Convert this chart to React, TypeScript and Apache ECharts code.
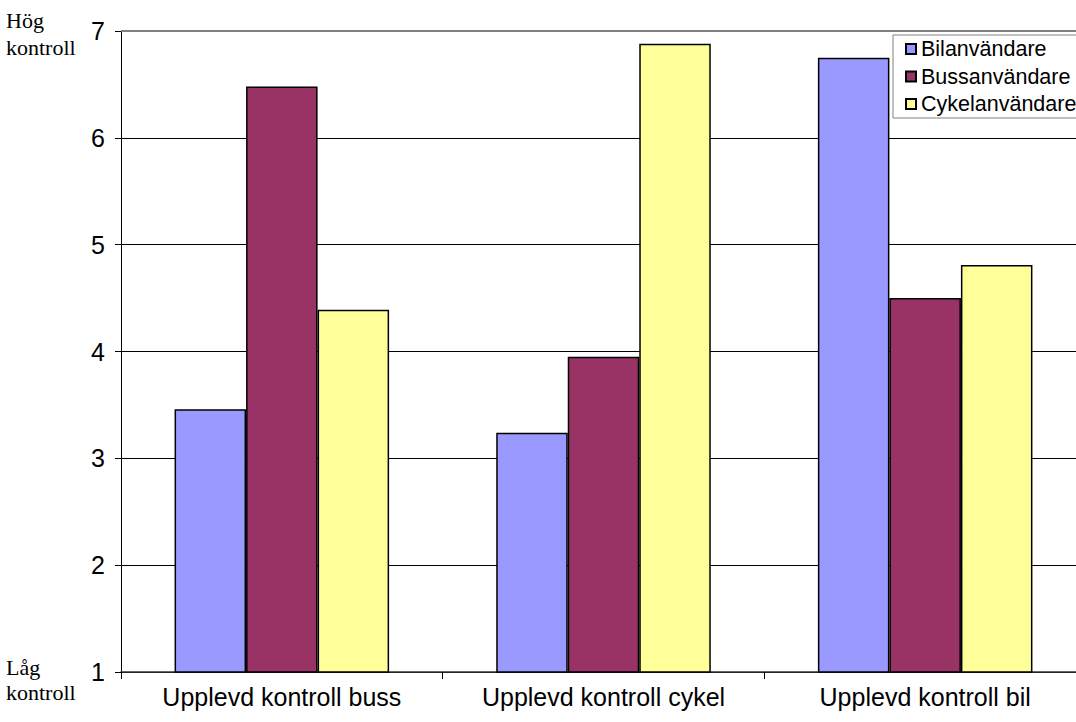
import React, { useEffect, useRef } from "react";
import * as echarts from "echarts";

const categories = ["Upplevd kontroll buss", "Upplevd kontroll cykel", "Upplevd kontroll bil"];
const seriesNames = ["Bilanvändare", "Bussanvändare", "Cykelanvändare"];
const bilValues = [3.46, 3.24, 6.75];
const bussValues = [6.48, 3.95, 4.5];
const cykelValues = [4.39, 6.88, 4.81];
const seriesColors = ["#9999FF", "#993366", "#FFFF99"];
const yMin = 1;
const yMax = 7;
const yInterval = 1;

export default function App() {
  const ref = useRef<HTMLDivElement>(null);
  useEffect(() => {
    if (!ref.current) return;
    const chart = echarts.init(ref.current, undefined, { renderer: "svg" });
    const allValues = [bilValues, bussValues, cykelValues];
    chart.setOption({
      animation: false,
      backgroundColor: "#ffffff",
      grid: { left: 121, right: 0, top: 31, bottom: 50, containLabel: false },
      legend: {
        orient: "vertical",
        left: 893,
        top: 35,
        data: seriesNames,
        icon: "rect",
        itemWidth: 10,
        itemHeight: 10,
        itemGap: 5.5,
        padding: [3, 40, 3, 12],
        borderColor: "#808080",
        borderWidth: 1,
        backgroundColor: "#ffffff",
        textStyle: { fontFamily: "Liberation Sans, Arial", fontSize: 21.5, color: "#000", lineHeight: 22 },
      },
      xAxis: {
        type: "category",
        data: categories,
        axisLine: { lineStyle: { color: "#333", width: 1.5 } },
        axisTick: { show: true, length: 7, lineStyle: { color: "#000" } },
        axisLabel: { fontFamily: "Liberation Sans, Arial", fontSize: 25, color: "#000", margin: 12 },
        splitLine: { show: false },
      },
      yAxis: {
        type: "value",
        min: yMin,
        max: yMax,
        interval: yInterval,
        axisLine: { show: true, lineStyle: { color: "#000", width: 1 } },
        axisTick: { show: true, length: 6, lineStyle: { color: "#000" } },
        axisLabel: { fontFamily: "Liberation Sans, Arial", fontSize: 25, color: "#000", margin: 16 },
        splitLine: {
          show: true,
          lineStyle: { color: ["#000", "#000", "#000", "#000", "#000", "#000", "#808080"], width: 1 },
        },
      },
      series: seriesNames.map((name, i) => ({
        name,
        type: "bar",
        data: allValues[i],
        barGap: "0%",
        barCategoryGap: "33.3%",
        itemStyle: { color: seriesColors[i], borderColor: "#000", borderWidth: 1.5 },
      })),
      graphic: [
        {
          type: "line",
          shape: { x1: 121, y1: 31, x2: 1086, y2: 31 },
          style: { stroke: "#808080", lineWidth: 2 },
          z: 1,
        },
        {
          type: "text",
          left: 6,
          top: 7,
          style: {
            text: "Hög\nkontroll",
            font: '22px "Liberation Serif", "Times New Roman", serif',
            fill: "#000",
            lineHeight: 27,
          },
        },
        {
          type: "text",
          left: 6,
          top: 655,
          style: {
            text: "Låg\nkontroll",
            font: '22px "Liberation Serif", "Times New Roman", serif',
            fill: "#000",
            lineHeight: 25,
          },
        },
      ],
    });
    return () => chart.dispose();
  }, []);
  return (
    <div style={{ position: "fixed", left: 0, top: 0, width: 1076, height: 722, overflow: "hidden" }}>
      <div ref={ref} style={{ width: 1086, height: 722 }} />
    </div>
  );
}
